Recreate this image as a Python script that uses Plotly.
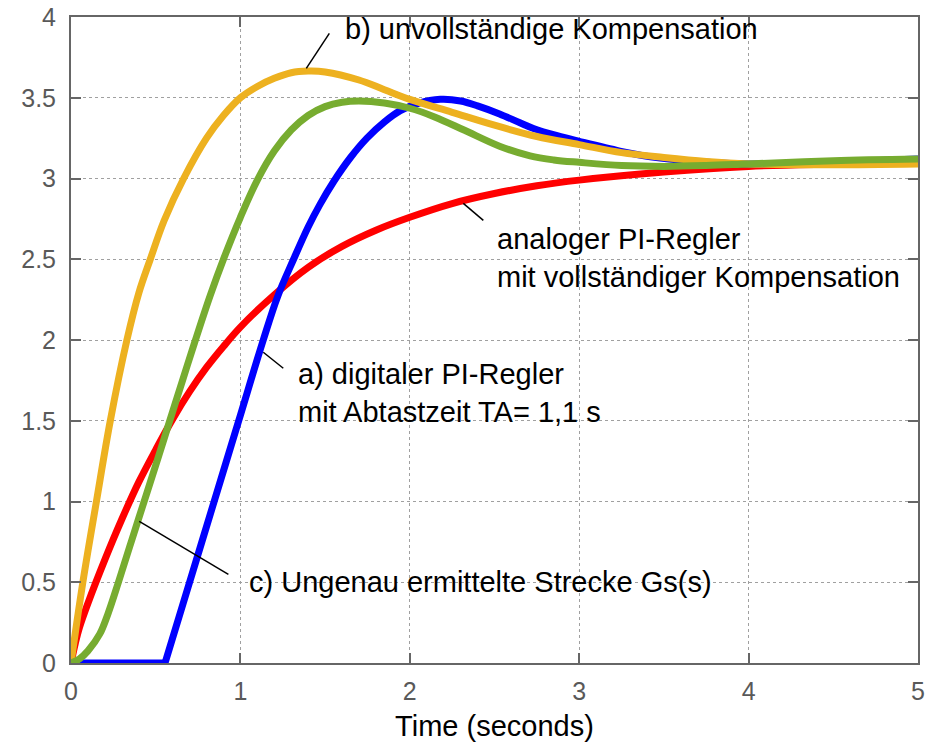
import plotly.graph_objects as go

# ---- data ----
t_red = [0, 0.025, 0.05, 0.1, 0.2, 0.3, 0.4, 0.5, 0.6, 0.7, 0.8, 0.9, 1.0, 1.2, 1.4, 1.6, 1.8, 2.0, 2.25, 2.5, 2.75, 3.0, 3.5, 4.0, 4.5, 5.0]
y_red = [0, 0.12, 0.22, 0.37, 0.64, 0.89, 1.12, 1.32, 1.51, 1.68, 1.83, 1.96, 2.08, 2.28, 2.45, 2.58, 2.68, 2.76, 2.845, 2.907, 2.955, 2.99, 3.04, 3.075, 3.09, 3.10]

t_blue = [0, 0.555, 0.70, 0.845, 0.99, 1.135, 1.22, 1.314, 1.40, 1.47, 1.55, 1.65, 1.747, 1.85, 1.944, 2.05, 2.18, 2.3, 2.4, 2.53, 2.65, 2.73, 2.87, 3.0, 3.24, 3.42, 3.7, 4.0, 4.5, 5.0]
y_blue = [0, 0, 0.5, 1.0, 1.5, 2.0, 2.27, 2.5, 2.70, 2.84, 2.98, 3.13, 3.25, 3.35, 3.42, 3.465, 3.49, 3.48, 3.45, 3.40, 3.345, 3.31, 3.265, 3.23, 3.17, 3.135, 3.105, 3.09, 3.10, 3.12]

t_yellow = [0, 0.07, 0.15, 0.232, 0.33, 0.40, 0.468, 0.55, 0.665, 0.8, 0.9, 1.0, 1.1, 1.2, 1.3, 1.4, 1.5, 1.7, 1.85, 2.0, 2.25, 2.5, 2.75, 3.0, 3.25, 3.5, 3.75, 4.0, 4.5, 5.0]
y_yellow = [0, 0.5, 1.0, 1.5, 2.0, 2.29, 2.5, 2.74, 3.0, 3.25, 3.39, 3.50, 3.57, 3.62, 3.655, 3.665, 3.66, 3.61, 3.55, 3.49, 3.41, 3.33, 3.26, 3.21, 3.16, 3.13, 3.105, 3.09, 3.085, 3.09]

t_green = [0, 0.05, 0.1, 0.17, 0.22, 0.28, 0.36, 0.45, 0.52, 0.586, 0.66, 0.73, 0.82, 0.9, 1.0, 1.1, 1.2, 1.3, 1.4, 1.5, 1.6, 1.7, 1.85, 2.0, 2.15, 2.32, 2.53, 2.71, 2.85, 3.0, 3.25, 3.5, 3.75, 4.0, 4.5, 5.0]
y_green = [0, 0.025, 0.075, 0.18, 0.31, 0.5, 0.765, 1.06, 1.29, 1.51, 1.755, 1.985, 2.27, 2.5, 2.76, 2.99, 3.17, 3.30, 3.39, 3.445, 3.472, 3.48, 3.468, 3.435, 3.38, 3.30, 3.20, 3.14, 3.115, 3.10, 3.08, 3.075, 3.08, 3.09, 3.11, 3.12]

x_ticks = [0, 1, 2, 3, 4, 5]
y_ticks = [0, 0.5, 1, 1.5, 2, 2.5, 3, 3.5, 4]
y_tick_labels = ["0", "0.5", "1", "1.5", "2", "2.5", "3", "3.5", "4"]

labels = ["b) unvollständige Kompensation",
          "analoger PI-Regler<br>mit vollständiger Kompensation",
          "a) digitaler PI-Regler<br>mit Abtastzeit TA= 1,1 s",
          "c) Ungenau ermittelte Strecke Gs(s)"]
label_x = [1.606, 2.5, 1.33, 1.04]
label_y = [3.924, 2.51, 1.67, 0.50]

# pointer lines (start on curve, end near label)
ptr_x0 = [1.389, 2.316, 1.135, 0.403]
ptr_y0 = [3.682, 2.846, 1.924, 0.877]
ptr_x1 = [1.525, 2.434, 1.253, 0.929]
ptr_y1 = [3.899, 2.741, 1.825, 0.549]

FONT = "Arial, Liberation Sans, sans-serif"
RED, BLUE, YELLOW, GREEN = "#FF0000", "#0000FF", "#EDB120", "#77AC30"

fig = go.Figure()


def add_line(tx, ty, col, shape="spline"):
    fig.add_trace(go.Scatter(x=tx, y=ty, mode="lines",
                             line=dict(color=col, width=7, shape=shape, smoothing=1.0),
                             showlegend=False, hoverinfo="skip"))


add_line(t_red, y_red, RED)
# blue: flat dead-time part drawn straight, rest smooth
add_line(t_blue[:2], y_blue[:2], BLUE, shape="linear")
add_line(t_blue[1:], y_blue[1:], BLUE)
add_line(t_yellow, y_yellow, YELLOW)
add_line(t_green, y_green, GREEN)

for i in range(len(labels)):
    fig.add_annotation(x=label_x[i], y=label_y[i], xref="x", yref="y",
                       text=labels[i], showarrow=False, xanchor="left", yanchor="middle",
                       align="left", font=dict(family=FONT, size=29, color="black"))
    fig.add_shape(type="line", xref="x", yref="y",
                  x0=ptr_x0[i], y0=ptr_y0[i], x1=ptr_x1[i], y1=ptr_y1[i],
                  line=dict(color="black", width=1.5))

axis_common = dict(showline=True, linecolor="#666666", linewidth=2, mirror="ticks",
                   ticks="inside", ticklen=10, tickwidth=2, tickcolor="#666666",
                   showgrid=True, gridcolor="#a0a0a0", griddash="dot", gridwidth=1,
                   zeroline=False, automargin=False, ticklabeloverflow="allow",
                   tickfont=dict(family=FONT, size=25, color="#595959"))

fig.update_xaxes(range=[0, 5], tickvals=x_ticks, ticktext=[str(v) for v in x_ticks],
                 title=dict(text="Time (seconds)", font=dict(family=FONT, size=29, color="black"),
                            standoff=12),
                 ticklabelstandoff=5, **axis_common)
fig.update_yaxes(range=[0, 4], tickvals=y_ticks, ticktext=y_tick_labels,
                 ticklabelstandoff=8, **axis_common)

fig.update_layout(width=933, height=742, paper_bgcolor="white", plot_bgcolor="white",
                  margin=dict(l=71, r=15, t=17, b=79), showlegend=False,
                  font=dict(family=FONT))

# remove the default 8px page margin so the figure fills the window exactly
fig.write_html("out.html", config={"displayModeBar": False},
               post_script="document.body.style.margin='0';")
